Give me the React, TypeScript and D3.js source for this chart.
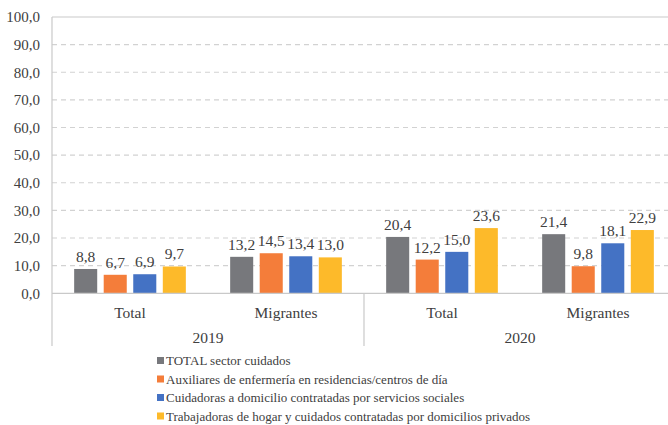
import React from "react";
import * as d3 from "d3";

const years = ["2019", "2020"];
const groups = ["Total", "Migrantes", "Total", "Migrantes"];
const groupYears = ["2019", "2019", "2020", "2020"];
const seriesNames = [
  "TOTAL sector cuidados",
  "Auxiliares de enfermería en residencias/centros de día",
  "Cuidadoras a domicilio contratadas por servicios sociales",
  "Trabajadoras de hogar y cuidados contratadas por domicilios privados",
];
const colors = ["#77787c", "#f47d3a", "#4472c4", "#fdba2a"];
const totalSector = [8.8, 13.2, 20.4, 21.4];
const auxiliares = [6.7, 14.5, 12.2, 9.8];
const cuidadoras = [6.9, 13.4, 15.0, 18.1];
const trabajadoras = [9.7, 13.0, 23.6, 22.9];
const yTicks = [0, 10, 20, 30, 40, 50, 60, 70, 80, 90, 100];

const W = 668;
const H = 425;
const left = 52;
const right = 676;
const top = 17;
const bottom = 293.3;

const fmt = (v: number) => v.toFixed(1).replace(".", ",");

export default function App() {
  const series = [totalSector, auxiliares, cuidadoras, trabajadoras];
  const x0 = d3
    .scaleBand<number>()
    .domain(groups.map((_, i) => i))
    .range([left, right])
    .paddingInner(0)
    .paddingOuter(0);
  const x1 = d3
    .scaleBand<number>()
    .domain(series.map((_, i) => i))
    .range([0, x0.bandwidth()])
    .paddingInner(0.22)
    .paddingOuter(0.75);
  const y = d3.scaleLinear().domain([0, 100]).range([bottom, top]);
  const textColor = "#404040";
  const font = "Liberation Serif, Times New Roman, DejaVu Serif, serif";
  const yearCenters = years.map((yr) => {
    const idx = groupYears.map((g, i) => (g === yr ? i : -1)).filter((i) => i >= 0);
    const a = x0(idx[0])!;
    const b = x0(idx[idx.length - 1])! + x0.bandwidth();
    return (a + b) / 2;
  });
  const divider = x0(2)!;
  return (
    <svg
      width={W}
      height={H}
      style={{ position: "absolute", left: 0, top: 0, background: "#fff", fontFamily: font }}
    >
      <rect x={0} y={0} width={W} height={H} fill="#fff" />
      {yTicks.map((t) =>
        t === 0 ? null : t === 100 ? (
          <line key={t} x1={left} x2={W} y1={y(t)} y2={y(t)} stroke="#c9c9c9" strokeWidth={1.2} />
        ) : (
          <line
            key={t}
            x1={left}
            x2={W}
            y1={y(t)}
            y2={y(t)}
            stroke="#d2d2d2"
            strokeWidth={1.1}
            strokeDasharray="5,4"
          />
        )
      )}
      {yTicks.map((t) => (
        <text
          key={"l" + t}
          x={40}
          y={y(t)}
          dy="0.35em"
          textAnchor="end"
          fontSize={15}
          fill={textColor}
        >
          {fmt(t)}
        </text>
      ))}
      {series.map((vals, s) =>
        vals.map((v, g) => {
          const bx = x0(g)! + x1(s)!;
          return (
            <g key={s + "-" + g}>
              <rect
                x={bx}
                y={y(v)}
                width={x1.bandwidth()}
                height={bottom - y(v)}
                fill={colors[s]}
              />
              <text
                x={bx + x1.bandwidth() / 2}
                y={y(v) - 7}
                textAnchor="middle"
                fontSize={15.5}
                fill={textColor}
              >
                {fmt(v)}
              </text>
            </g>
          );
        })
      )}
      <line x1={left} x2={W} y1={bottom} y2={bottom} stroke="#c9c9c9" strokeWidth={1.2} />
      <line x1={left} x2={left} y1={top} y2={346} stroke="#c9c9c9" strokeWidth={1.2} />
      <line x1={divider} x2={divider} y1={bottom} y2={346} stroke="#c9c9c9" strokeWidth={1.2} />
      {groups.map((g, i) => (
        <text
          key={"g" + i}
          x={x0(i)! + x0.bandwidth() / 2}
          y={318}
          textAnchor="middle"
          fontSize={15.5}
          fill={textColor}
        >
          {g}
        </text>
      ))}
      {years.map((yr, i) => (
        <text
          key={"y" + yr}
          x={yearCenters[i]}
          y={343}
          textAnchor="middle"
          fontSize={15.5}
          fill={textColor}
        >
          {yr}
        </text>
      ))}
      {seriesNames.map((n, i) => {
        const cy = 360.5 + i * 18.5;
        return (
          <g key={"leg" + i}>
            <rect x={157} y={cy - 3.5} width={7} height={7} fill={colors[i]} />
            <text x={166} y={cy} dy="0.35em" fontSize={13} fill={textColor}>
              {n}
            </text>
          </g>
        );
      })}
    </svg>
  );
}
